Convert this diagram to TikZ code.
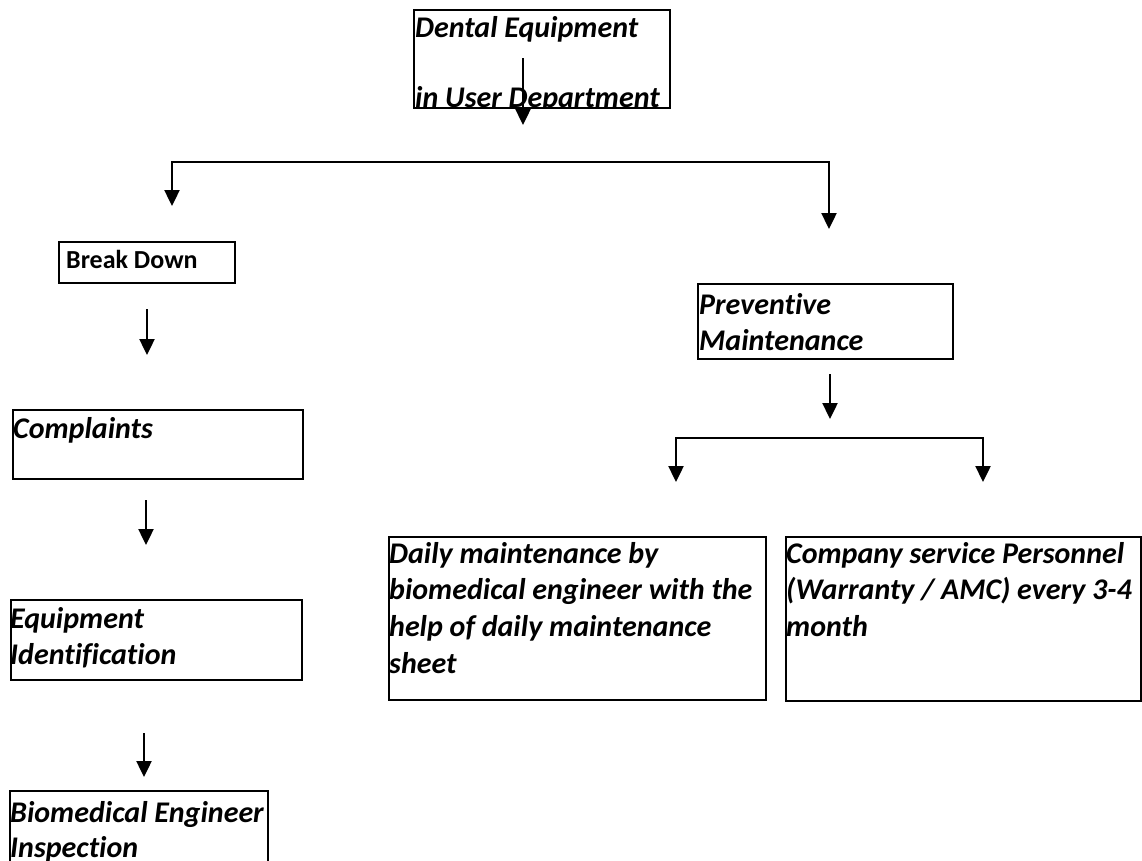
\documentclass[tikz,border=0pt]{standalone}
\usepackage{fontspec}
\setmainfont[Ligatures=NoCommon]{Carlito}
\usetikzlibrary{arrows.meta}
\tikzset{
  box/.style={draw, line width=2pt, inner sep=0pt, anchor=north west},
  txt/.style={inner sep=0pt, anchor=base west, font=\bfseries\itshape\fontsize{30}{36.7}\selectfont},
  uptxt/.style={inner sep=0pt, anchor=base west, font=\bfseries\fontsize{26}{30}\selectfont},
  arr/.style={line width=2.4pt, -{Triangle[length=16pt,width=15pt]}},
}
\begin{document}
\begin{tikzpicture}[x=1pt,y=-1pt]
\useasboundingbox (0,0) rectangle (1142,860);
% boxes
\node[box, minimum width=256pt, minimum height=98pt] (top) at (413,9) {};
\node[box, minimum width=176pt, minimum height=41pt] (bd) at (58,241) {};
\node[box, minimum width=290pt, minimum height=69pt] (cp) at (12,409) {};
\node[box, minimum width=291pt, minimum height=80pt] (ei) at (10,599) {};
\node[box, minimum width=258pt, minimum height=100pt] (bi) at (9,790) {};
\node[box, minimum width=255pt, minimum height=75pt] (pm) at (697,283) {};
\node[box, minimum width=377pt, minimum height=163pt] (dm) at (388,536) {};
\node[box, minimum width=355pt, minimum height=164pt] (cs) at (785,536) {};
% texts
\begin{scope}
\clip (top.north west) rectangle ([yshift=1pt]top.south east);
\node[txt] (toptxt) at (415,37) {\vtop{\baselineskip=70pt\hbox{Dental Equipment}\hbox{in User Department}}};
\end{scope}
\node[uptxt] (bdtxt) at (66,268) {Break Down};
\node[txt] (cptxt) at (13,438) {Complaints};
\node[txt] (eitxt) at (10,628) {\vtop{\hbox{Equipment}\hbox{Identification}}};
\node[txt] (bitxt) at (10,822) {\vtop{\baselineskip=35pt\hbox{Biomedical Engineer}\hbox{Inspection}}};
\node[txt] (pmtxt) at (699,314) {\vtop{\hbox{Preventive}\hbox{Maintenance}}};
\node[txt] (dmtxt) at (389,563) {\vtop{\hbox{Daily maintenance by}\hbox{biomedical engineer with the}\hbox{help of daily maintenance}\hbox{sheet}}};
\node[txt] (cstxt) at (786,563) {\vtop{\hbox{Company service Personnel}\hbox{(Warranty / AMC) every 3-4}\hbox{month}}};
% arrow coordinates
\coordinate (a0s) at (523,58);  \coordinate (a0e) at (523,125);
\coordinate (j1) at (523,162);
\coordinate (t1l) at (172,206); \coordinate (t1r) at (829,229);
\coordinate (a1s) at (147,309); \coordinate (a1e) at (147,355);
\coordinate (a2s) at (146,500); \coordinate (a2e) at (146,545);
\coordinate (a3s) at (144,733); \coordinate (a3e) at (144,777);
\coordinate (a4s) at (830,374); \coordinate (a4e) at (830,419);
\coordinate (j2) at (830,438);
\coordinate (t2l) at (676,482); \coordinate (t2r) at (983,482);
% arrows
\draw[arr] (a0s) -- (a0e);
\draw[arr] (j1) -| (t1l);
\draw[arr] (j1) -| (t1r);
\draw[arr] (a1s) -- (a1e);
\draw[arr] (a2s) -- (a2e);
\draw[arr] (a3s) -- (a3e);
\draw[arr] (a4s) -- (a4e);
\draw[arr] (j2) -| (t2l);
\draw[arr] (j2) -| (t2r);
\end{tikzpicture}
\end{document}
